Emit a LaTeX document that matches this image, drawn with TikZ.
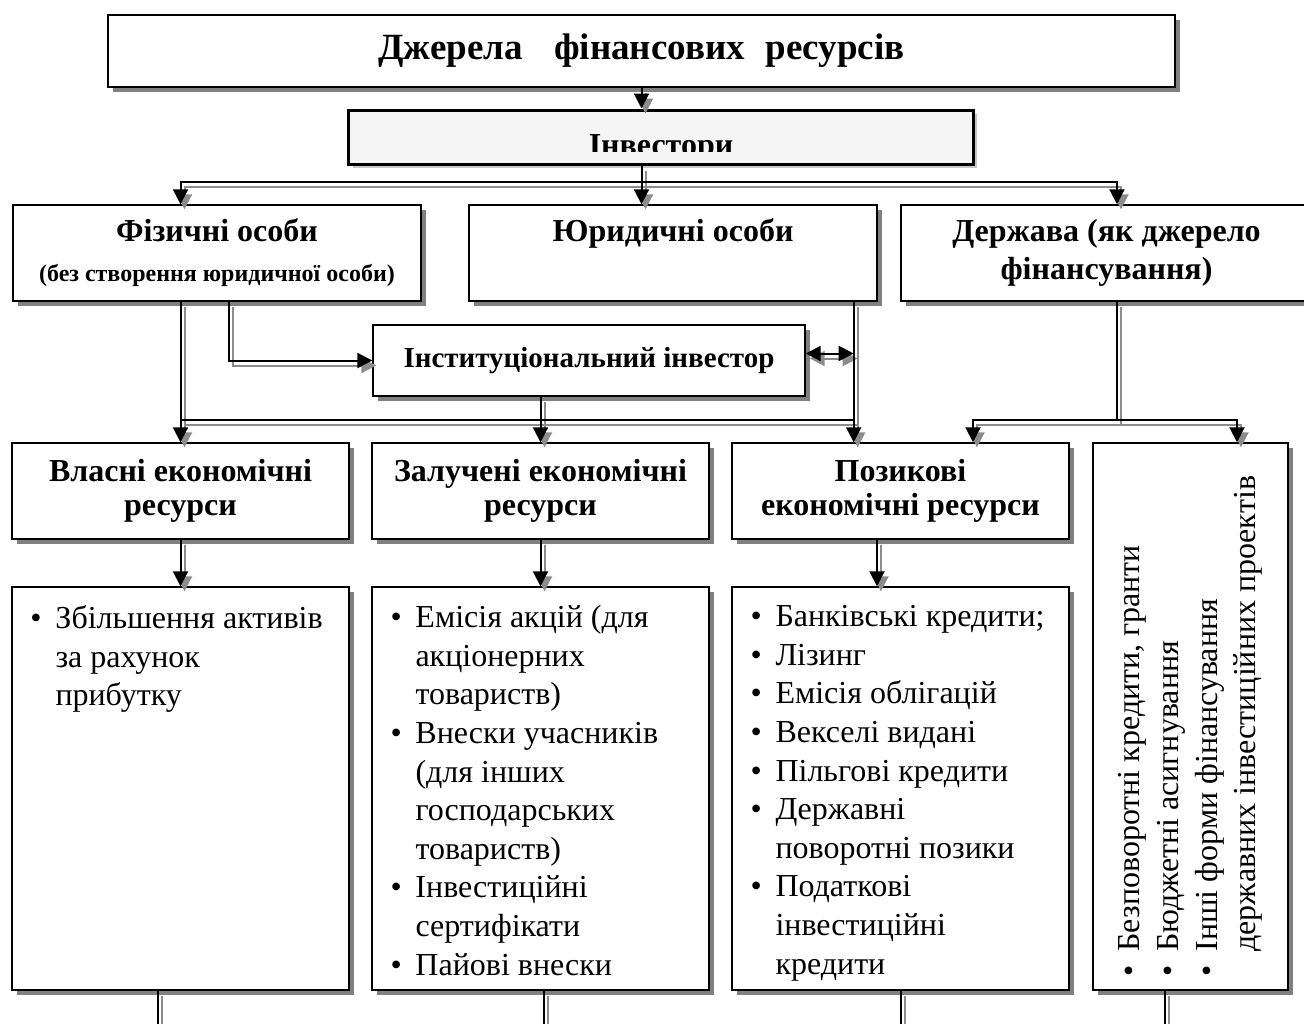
\documentclass[tikz,border=0pt]{standalone}
\usepackage{fontspec}
\usepackage{graphicx}
\setmainfont{Liberation Serif}
\usetikzlibrary{arrows.meta,shadows}

\newcommand{\titlefont}{\bfseries\fontsize{37}{42}\selectfont}
\newcommand{\headfont}{\bfseries\fontsize{32}{35}\selectfont}
\newcommand{\instfont}{\bfseries\fontsize{29}{33}\selectfont}
\newcommand{\subfont}{\bfseries\fontsize{24}{28}\selectfont}
\newcommand{\bodyfont}{\mdseries\fontsize{32}{38.6}\selectfont}
\newcommand{\bul}{\par\hangindent=25pt\hangafter=1\noindent\makebox[25pt][l]{\textbullet}}
\newcommand{\listtext}[1]{\parbox[c][366pt][t]{300pt}{\raggedright\bodyfont #1}}

% connectors, drawn once per pass (shadow, then line)
\newcommand{\links}[1]{%
  \draw[#1,->] (src.south) -- (src.south |- inv.north);
  \draw[#1,->] (src.south |- inv.south) -- (src.south |- legal.north);
  \draw[#1,<->] (own.north |- phys.north) |- (fork) -| ([xshift=10.5pt]state.north);
  \draw[#1,->] (own.north |- phys.south) -- (own.north);
  \draw[#1,->] ([xshift=12pt]phys.south) |- (inst.west);
  \draw[#1,->] (legx) -- (legx |- loan.north);
  \draw[#1,<->] (instx) -- (legx |- instx);
  \draw[#1] (own.north |- bus) -- (legx |- bus);
  \draw[#1,->] (attr.north |- inst.south) -- (attr.north);
  \draw[#1] (statex) -- (statex |- bus);
  \draw[#1,<->] ([xshift=72.5pt]loan.north) |- (statex |- bus) -| ([xshift=46.5pt]vbox.north);
  \draw[#1,->] (own.south) -- (ownlist.north);
  \draw[#1,->] (attr.south) -- (attrlist.north);
  \draw[#1,->] ([xshift=-23.5pt]loan.south) -- ([xshift=-23.5pt]loanlist.north);
  \draw[#1] ([xshift=-22.5pt]ownlist.south) -- ++(0,40);
  \draw[#1] ([xshift=3.5pt]attrlist.south) -- ++(0,40);
  \draw[#1] (loanlist.south) -- ++(0,40);
  \draw[#1] ([xshift=-25.5pt]vbox.south) -- ++(0,40);
}

\begin{document}
\begin{tikzpicture}[x=1pt, y=-1pt, >={Triangle[width=15pt,length=15pt]},
  plain/.style={draw, fill=white, align=center, inner sep=0pt, font=\headfont},
  box/.style={plain, line width=1.4pt,
    drop shadow={shadow xshift=5pt, shadow yshift=-5pt, fill=black!50, opacity=1}},
  mainbox/.style={plain, line width=3pt, fill=black!4,
    drop shadow={shadow xshift=4pt, shadow yshift=-4pt, fill=black!22, opacity=1}},
  linkshade/.style={draw=black!45, line width=2pt, transform canvas={xshift=4pt, yshift=-5pt}},
  linkmain/.style={draw=black, line width=2pt}]
\useasboundingbox (0,0) rectangle (1304,1023);

\node[box, font=\titlefont, minimum width=1067pt, minimum height=72pt] (src) at (641.5,51) {Джерела\hspace{0.85em}фінансових\hspace{0.55em}ресурсів};
\node[mainbox, minimum width=624.5pt, minimum height=54pt] (inv) at (661,137) {\smash{\raisebox{-18pt}{Інвестори}}};
\fill[black!4] ([xshift=3pt,yshift=3pt]inv.south west) rectangle ([xshift=-3pt,yshift=13.5pt]inv.south east);

\node[box, minimum width=408pt, minimum height=96pt] (phys) at (217,253) {Фізичні особи\\[5pt]{\subfont (без створення юридичної особи)}};
\node[box, minimum width=408pt, minimum height=96pt] (legal) at (673,253) {Юридичні особи\\[5pt]{\subfont\phantom{(б)}}};
\node[box, minimum width=411pt, minimum height=96pt] (state) at (1106.5,253) {Держава (як джерело\\[3pt]фінансування)};
\node[box, font=\instfont, minimum width=432pt, minimum height=71pt] (inst) at (589,360.5) {\raisebox{4pt}{Інституціональний інвестор}};

\node[box, minimum width=337pt, minimum height=96pt] (own) at (180.5,491) {Власні економічні\\[-1pt]ресурси};
\node[box, minimum width=337pt, minimum height=96pt] (attr) at (540.5,491) {Залучені економічні\\[-1pt]ресурси};
\node[box, minimum width=337pt, minimum height=96pt] (loan) at (900.5,491) {Позикові\\[-1pt]економічні ресурси};
\node[box, minimum width=195pt, minimum height=547pt] (vbox) at (1190.5,716.5) {\rotatebox{90}{\parbox{520pt}{\raggedright\bodyfont
  \bul Безповоротні кредити, гранти
  \bul Бюджетні асигнування
  \bul Інші форми фінансування\newline державних інвестиційних проектів}}};

\node[box, minimum width=337pt, minimum height=403pt] (ownlist) at (180.5,788.5) {\listtext{%
  \bul Збільшення активів\newline за рахунок\newline прибутку}};
\node[box, minimum width=337pt, minimum height=403pt] (attrlist) at (540.5,788.5) {\listtext{%
  \bul Емісія акцій (для\newline акціонерних\newline товариств)
  \bul Внески учасників\newline (для інших\newline господарських\newline товариств)
  \bul Інвестиційні\newline сертифікати
  \bul Пайові внески}};
\node[box, minimum width=337pt, minimum height=403pt] (loanlist) at (900.5,788.5) {\listtext{%
  \bul Банківські кредити;
  \bul Лізинг
  \bul Емісія облігацій
  \bul Векселі видані
  \bul Пільгові кредити
  \bul Державні\newline поворотні позики
  \bul Податкові\newline інвестиційні\newline кредити}};

\coordinate (fork) at (641.5,182);
\coordinate (bus) at (0,420);
\coordinate (legx) at ([xshift=-24pt]legal.south east);
\coordinate (instx) at ([yshift=7pt]inst.east);
\coordinate (statex) at ([xshift=10.5pt]state.south);

\links{linkshade}
\links{linkmain}
\end{tikzpicture}
\end{document}
